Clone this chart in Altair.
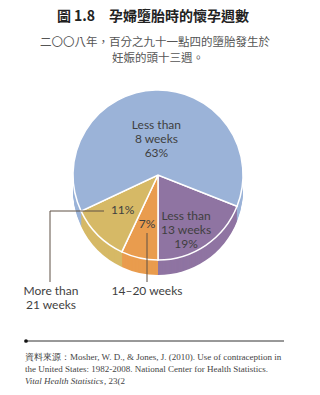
import altair as alt
import pandas as pd

# ---- data ----
categories = ["Less than 13 weeks", "14–20 weeks", "More than 21 weeks", "Less than 8 weeks"]
values = [19, 7, 11, 63]
inner_labels = ["Less than\n13 weeks\n19%", "7%", "11%", "Less than\n8 weeks\n63%"]
colors = ["#9c81ae", "#f6aa5c", "#e2c673", "#a8c0e4"]
side_colors = ["#8f74a2", "#e99c4e", "#d6b966", "#9bb3d8"]

title_text = "圖 1.8　孕婦墮胎時的懷孕週數"
subtitle_lines = ["二〇〇八年，百分之九十一點四的墮胎發生於", "妊娠的頭十三週。"]
outer_label_a = "More than\n21 weeks"
outer_label_b = "14–20 weeks"
source_lines = [
    "資料來源：Mosher, W. D., & Jones, J. (2010). Use of contraception in",
    "the United States: 1982-2008. National Center for Health Statistics.",
]
source_italic = "Vital Health Statistics"
source_tail = ", 23(2"

df = pd.DataFrame({
    "cat": categories,
    "value": values,
    "label": inner_labels,
    "order": list(range(len(categories))),
})

CX, CY, R, DEPTH = 158, 175, 85, 15
start = 1.9478
theta_scale = alt.Scale(range=[start, start + 6.283185])
color_top = alt.Color("cat:N", scale=alt.Scale(domain=categories, range=colors), legend=None)
color_side = alt.Color("cat:N", scale=alt.Scale(domain=categories, range=side_colors), legend=None)

base = alt.Chart(df)

layers = []
for d in range(DEPTH, 0, -1):
    layers.append(
        base.mark_arc(outerRadius=R).encode(
            theta=alt.Theta("value:Q", stack=True, scale=theta_scale),
            order=alt.Order("order:Q"),
            color=color_side,
            x=alt.value(CX),
            y=alt.value(CY + d),
        )
    )

top = base.mark_arc(outerRadius=R, stroke="white", strokeWidth=1.5).encode(
    theta=alt.Theta("value:Q", stack=True, scale=theta_scale),
    order=alt.Order("order:Q"),
    color=color_top,
    x=alt.value(CX),
    y=alt.value(CY),
)
layers.append(top)

# inner labels
labels = base.mark_text(
    font="Lato", fontSize=12, color="#3f3f3f", lineBreak="\n", lineHeight=14, radius=50
).encode(
    theta=alt.Theta("value:Q", stack=True, scale=theta_scale),
    order=alt.Order("order:Q"),
    text="label:N",
    x=alt.value(CX),
    y=alt.value(CY),
)
layers.append(labels)

one = pd.DataFrame({"a": [0]})
ob = alt.Chart(one)

# leader lines
line_col = "#5e5045"
layers += [
    ob.mark_rule(color=line_col, strokeWidth=1).encode(x=alt.value(50), x2=alt.value(104), y=alt.value(211)),
    ob.mark_rule(color=line_col, strokeWidth=1).encode(x=alt.value(50), y=alt.value(211), y2=alt.value(282)),
    ob.mark_rule(color=line_col, strokeWidth=1).encode(x=alt.value(147), y=alt.value(233), y2=alt.value(282)),
    ob.mark_text(font="Lato", fontSize=12, color="#3f3f3f", lineBreak="\n", lineHeight=14, baseline="top").encode(
        text=alt.value(outer_label_a), x=alt.value(51), y=alt.value(286)),
    ob.mark_text(font="Lato", fontSize=12, color="#3f3f3f", baseline="top").encode(
        text=alt.value(outer_label_b), x=alt.value(147), y=alt.value(286)),
]

# title and subtitle
layers += [
    ob.mark_text(font="Noto Sans CJK TC", fontSize=14, fontWeight="bold", color="#222222").encode(
        text=alt.value(title_text), x=alt.value(153), y=alt.value(17)),
    ob.mark_text(font="Noto Sans CJK TC", fontSize=11.5, color="#555555").encode(
        text=alt.value(subtitle_lines[0]), x=alt.value(155), y=alt.value(43)),
    ob.mark_text(font="Noto Sans CJK TC", fontSize=11.5, color="#555555").encode(
        text=alt.value(subtitle_lines[1]), x=alt.value(158), y=alt.value(59)),
]

# source divider and text
src_font = dict(font="Liberation Serif", fontSize=9, color="#444444", align="left")
layers += [
    ob.mark_rule(color="#333333", strokeWidth=1).encode(x=alt.value(26), x2=alt.value(284), y=alt.value(341)),
    ob.mark_point(filled=True, color="#111111", size=14, opacity=1).encode(x=alt.value(26), y=alt.value(341)),
    ob.mark_text(**src_font).encode(text=alt.value(source_lines[0]), x=alt.value(25), y=alt.value(357)),
    ob.mark_text(**src_font).encode(text=alt.value(source_lines[1]), x=alt.value(25), y=alt.value(369)),
    ob.mark_text(fontStyle="italic", **src_font).encode(text=alt.value(source_italic), x=alt.value(25), y=alt.value(381)),
    ob.mark_text(**src_font).encode(text=alt.value(source_tail), x=alt.value(104), y=alt.value(381)),
]

chart = alt.layer(*layers).properties(
    width=320, height=395,
    autosize=alt.AutoSizeParams(type="none"),
    padding=0,
    background="white",
).configure_view(stroke=None)

chart.save("out.html", embed_options={"renderer": "svg", "actions": False})
